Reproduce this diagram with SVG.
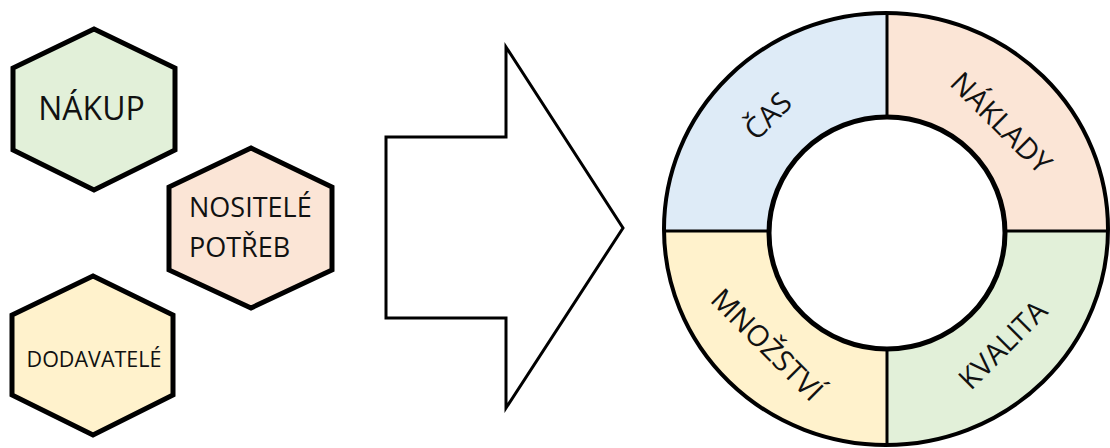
<svg xmlns="http://www.w3.org/2000/svg" width="1110" height="448" viewBox="0 0 1110 448">
  <style>
    .hex { stroke: #000; stroke-width: 5; stroke-linejoin: miter; }
    .lbl { font-family: "Open Sans", "Noto Sans", "Liberation Sans", sans-serif; fill: #111; }
    .ring { font-size: 29px; }
    .div { stroke: #000; stroke-width: 3; }
  </style>
  <defs>
    <clipPath id="ringClip">
      <ellipse cx="886" cy="229" rx="222" ry="216"/>
    </clipPath>
  </defs>
  <rect width="1110" height="448" fill="#fff"/>

  <g id="node-nakup">
    <polygon class="hex" fill="#E2F0D9" points="94,29 175,68 175,150 94,190 13,150 13,68"/>
    <text class="lbl" x="91.5" y="120" font-size="32" text-anchor="middle">NÁKUP</text>
  </g>

  <g id="node-nositele">
    <polygon class="hex" fill="#FBE5D6" points="251,148 332,187 332,270 251,308 169,270 169,187"/>
    <text class="lbl" x="189" y="217" font-size="27">NOSITELÉ</text>
    <text class="lbl" x="189" y="257" font-size="27">POTŘEB</text>
  </g>

  <g id="node-dodavatele">
    <polygon class="hex" fill="#FFF2CC" points="93,276 173,315 173,395 93,435 12,395 12,315"/>
    <text class="lbl" x="94" y="367" font-size="21.5" text-anchor="middle">DODAVATELÉ</text>
  </g>

  <g id="connectors">
    <polygon points="386,137 506,137 506,47 623,228 506,408 506,318 386,318" fill="#fff" stroke="#000" stroke-width="3" stroke-linejoin="miter"/>
  </g>

  <g id="node-ring">
    <g clip-path="url(#ringClip)">
      <rect x="600" y="0" width="287" height="231" fill="#DEEBF7"/>
      <rect x="887" y="0" width="230" height="231" fill="#FBE5D6"/>
      <rect x="887" y="231" width="230" height="220" fill="#E2F0D9"/>
      <rect x="600" y="231" width="287" height="220" fill="#FFF2CC"/>
    </g>
    <line class="div" x1="887" y1="13" x2="887" y2="445"/>
    <line class="div" x1="664" y1="231" x2="1108" y2="231"/>
    <ellipse cx="887" cy="233" rx="118" ry="116" fill="#fff" stroke="#000" stroke-width="5"/>
    <ellipse cx="886" cy="229" rx="222" ry="216" fill="none" stroke="#000" stroke-width="4"/>
  </g>

  <g id="node-cas">
    <text class="lbl ring" text-anchor="middle" transform="translate(768,116) rotate(-45)" x="0" y="10">ČAS</text>
  </g>
  <g id="node-naklady">
    <text class="lbl ring" text-anchor="middle" transform="translate(1001,123) rotate(45)" x="0" y="10">NÁKLADY</text>
  </g>
  <g id="node-kvalita">
    <text class="lbl ring" text-anchor="middle" transform="translate(1003,345) rotate(-45)" x="0" y="10">KVALITA</text>
  </g>
  <g id="node-mnozstvi">
    <text class="lbl ring" text-anchor="middle" transform="translate(767,345) rotate(45)" x="0" y="10">MNOŽSTVÍ</text>
  </g>
</svg>
